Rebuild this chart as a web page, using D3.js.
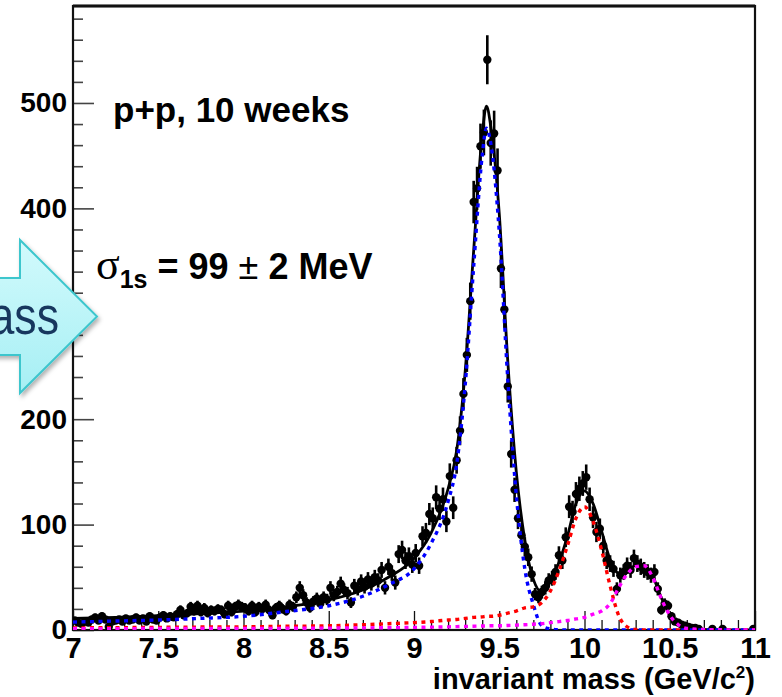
<!DOCTYPE html>
<html><head><meta charset="utf-8">
<script src="https://cdn.jsdelivr.net/npm/d3@7"></script>
<style>html,body{margin:0;padding:0;background:#fff;overflow:hidden}</style>
</head><body>
<svg id="c" width="782" height="697"></svg>
<script>
// ---------- DATA ----------
const massMin = 7.0;
const binWidth = 0.02;
// counts per 20 MeV bin, 7.00 - 11.00 GeV/c^2 (200 bins)
const counts = [
  9,7,6,8,7,10,12,9,13,10, 3,8,9,10,8,11,9,10,12,9, 11,8,13,10,9,12,14,11,13,12, 15,19,14,16,22,18,23,17,21,16, 19,18,20,19,15,23,17,22,24,22,
  21,18,23,17,22,20,24,19,14,21, 23,20,18,24,22,31,40,33,26,21, 27,30,25,31,29,40,33,36,44,38, 35,26,42,39,46,41,48,44,50,47, 57,40,60,54,45,72,76,66,70,62,
  73,61,89,92,110,106,126,115,124,103, 146,116,161,189,224,261,312,406,419,459, 472,541,462,471,436,343,304,231,167,133, 106,90,79,69,53,34,31,36,40,47, 49,55,71,66,88,117,112,129,134,139,
  145,124,107,93,96,80,66,63,58,39, 52,55,61,57,68,63,60,57,55,52, 55,39,19,25,23,13,8,7,5,4, 3,2,2,1,0,0,0,1,0,0, 1,0,0,0,0,0,0,0,0,1
];
// fit curves sampled at these masses
const curveMass = [7.0,7.25,7.5,7.75,8.0,8.25,8.5,8.7,8.85,9.0,9.1,9.2,9.25,9.3,9.35,9.4,9.425,9.45,9.5,9.55,9.6,9.65,9.7,9.75,9.8,9.85,9.9,9.95,10.0,10.05,10.1,10.15,10.2,10.25,10.3,10.35,10.4,10.45,10.5,10.55,10.6,10.7,10.8,10.9,11.0];
const fitTotal = [11,12,13.5,15.5,18,22,28.5,38,50,68,92,134,170,245,360,470,497,478,395,255,150,85,48,36,48,64,89,120,132,120,94,67,54,56,61,61,51,31,14,5.5,2,0.6,0.2,0.1,0];
const fit1S    = [7.5,8.5,9.5,11,13,17.5,23,32,43,58,82,122,157,232,345,450,476,462,378,238,128,58,24,4,1,0.2,0,0,0,0,0,0,0,0,0,0,0,0,0,0,0,0,0,0,0];
const fit2S    = [2,2.2,2.5,2.8,3,3.5,4,5,6,7,8,9.5,10,11,12,12.5,13,13,14,16,18,21,22,26,37,56,80,106,117,103,76,42,14,3,0.5,0,0,0,0,0,0,0,0,0,0];
const fit3S    = [1.2,1.3,1.4,1.5,1.5,1.6,1.8,2,2.2,2.5,2.7,3,3.2,3.4,3.6,3.8,3.9,4,4,4.3,4.6,5,5.5,6,7,8,9,10.5,12,15,18,25,40,53,60,61,50,30,14,5,1.5,0.5,0.2,0,0];
const xTickValues = [7,7.5,8,8.5,9,9.5,10,10.5,11];
const xTickLabels = ["7","7.5","8","8.5","9","9.5","10","10.5","11"];
const yTickValues = [0,100,200,300,400,500];
// the "300" label is hidden behind the arrow in the reference
const yTickLabels = ["0","100","200","","400","500"];

// ---------- LAYOUT ----------
const svg = d3.select("#c");
const L = 73, R = 755, T = 6, B = 630;
const x = d3.scaleLinear().domain([7, 11]).range([L, R]);
const y = d3.scaleLinear().domain([0, 592]).range([B, T]);
const FONT = "'Liberation Sans', Arial, Helvetica, sans-serif";

const defs = svg.append("defs");
defs.append("clipPath").attr("id","plotclip").append("rect")
  .attr("x", L).attr("y", T).attr("width", R-L).attr("height", B-T);
const grad = defs.append("linearGradient").attr("id","arrowgrad")
  .attr("x1","0").attr("y1","0").attr("x2","0").attr("y2","1");
grad.append("stop").attr("offset","0").attr("stop-color","#d2fafc");
grad.append("stop").attr("offset","1").attr("stop-color","#a6eff4");
const sh = defs.append("filter").attr("id","shadow").attr("x","-20%").attr("y","-20%").attr("width","150%").attr("height","150%");
sh.append("feDropShadow").attr("dx",2).attr("dy",3).attr("stdDeviation",2).attr("flood-color","#000").attr("flood-opacity",0.3);

// ---------- AXES ----------
const yMinor = d3.range(20, 581, 20).filter(v => v % 100 !== 0);
const xMinor = d3.range(71, 110, 1).map(v => v/10).filter(v => Math.abs(v*2 - Math.round(v*2)) > 1e-6);

const gYminor = svg.append("g").attr("transform",`translate(${L},0)`)
  .call(d3.axisRight(y).tickValues(yMinor).tickSize(10).tickFormat(""));
const gYmajor = svg.append("g").attr("transform",`translate(${L},0)`)
  .call(d3.axisRight(y).tickValues(yTickValues).tickSize(21).tickFormat(""));
const gYlab = svg.append("g").attr("transform",`translate(${L},0)`)
  .call(d3.axisLeft(y).tickValues(yTickValues).tickSize(0).tickPadding(6)
    .tickFormat((d,i) => yTickLabels[i]));
const gXminor = svg.append("g").attr("transform",`translate(0,${B})`)
  .call(d3.axisTop(x).tickValues(xMinor).tickSize(10).tickFormat(""));
const gXmajor = svg.append("g").attr("transform",`translate(0,${B})`)
  .call(d3.axisTop(x).tickValues(xTickValues).tickSize(19).tickFormat(""));
const gXlab = svg.append("g").attr("transform",`translate(0,${B})`)
  .call(d3.axisBottom(x).tickValues(xTickValues).tickSize(0).tickPadding(7)
    .tickFormat((d,i) => xTickLabels[i]));

[gYminor,gYmajor,gYlab,gXminor,gXmajor,gXlab].forEach(g => g.select(".domain").remove());
[gYminor,gYmajor].forEach(g => g.selectAll("line").attr("stroke","#444").attr("stroke-width",1.6));
[gXminor,gXmajor].forEach(g => g.selectAll("line").attr("stroke","#111").attr("stroke-width",1.3));
gYlab.selectAll("text").attr("font-family",FONT).attr("font-weight","bold").attr("font-size",28).attr("fill","#000");
gXlab.selectAll("text").attr("font-family",FONT).attr("font-weight","bold").attr("font-size",29).attr("fill","#000");

// frame
svg.append("rect").attr("x",L).attr("y",T).attr("width",R-L).attr("height",B-T)
  .attr("fill","none").attr("stroke","#111").attr("stroke-width",2.2);
svg.append("line").attr("x1",L).attr("x2",R).attr("y1",T).attr("y2",T)
  .attr("stroke","#111").attr("stroke-width",3);

// ---------- DATA ----------
const plot = svg.append("g").attr("clip-path","url(#plotclip)");
const fitPts = (arr) => curveMass.map((m,i) => [m, arr[i]]);
const line = d3.line().x(d => x(d[0])).y(d => y(d[1])).curve(d3.curveMonotoneX);

plot.append("path").datum(fitPts(fitTotal)).attr("d", line)
  .attr("fill","none").attr("stroke","#000").attr("stroke-width",2.8);

const bins = counts.map((c,i) => ({m: massMin + binWidth*(i+0.5), c}))
  .filter(d => d.c > 0);
plot.append("g").selectAll("line").data(bins).join("line")
  .attr("x1", d => x(d.m)).attr("x2", d => x(d.m))
  .attr("y1", d => y(d.c + Math.sqrt(d.c))).attr("y2", d => y(Math.max(0, d.c - Math.sqrt(d.c))))
  .attr("stroke","#000").attr("stroke-width",2.6);
plot.append("g").selectAll("circle").data(bins).join("circle")
  .attr("cx", d => x(d.m)).attr("cy", d => y(d.c)).attr("r", 4.2).attr("fill","#000");

[[fit1S,"#0000ff"],[fit2S,"#ff0000"],[fit3S,"#ff00ff"]].forEach(([arr,col]) => {
  plot.append("path").datum(fitPts(arr)).attr("d", line)
    .attr("fill","none").attr("stroke",col).attr("stroke-width",3.4)
    .attr("stroke-dasharray","4,4.5");
});

// ---------- TEXT ----------
svg.append("text").attr("x",113).attr("y",122)
  .attr("font-family",FONT).attr("font-weight","bold").attr("font-size",35)
  .text("p+p, 10 weeks");

const sig = svg.append("text").attr("x",96).attr("y",279)
  .attr("font-family",FONT).attr("font-weight","bold").attr("font-size",36);
sig.append("tspan").attr("font-family","'Liberation Serif','Times New Roman',serif")
  .attr("font-weight","normal").attr("font-size",44).text("σ");
sig.append("tspan").attr("font-size",25).attr("dy",9).text("1s");
sig.append("tspan").attr("dy",-9).text(" = 99 ");
sig.append("tspan").attr("font-weight","normal").text("±");
sig.append("tspan").text(" 2 MeV");

const xt = svg.append("text").attr("x",755).attr("y",689).attr("text-anchor","end")
  .attr("font-family",FONT).attr("font-weight","bold").attr("font-size",29);
xt.append("tspan").text("invariant mass (GeV/c");
xt.append("tspan").attr("font-size",17).attr("dy",-11).text("2");
xt.append("tspan").attr("dy",11).text(")");

// ---------- ARROW ----------
const arrowPts = [[-10,278],[20,278],[20,240],[97,316.5],[20,393],[20,355],[-10,355]];
svg.append("polygon").attr("points", arrowPts.map(p => p.join(",")).join(" "))
  .attr("fill","url(#arrowgrad)").attr("stroke","#3cc6cd").attr("stroke-width",2)
  .attr("filter","url(#shadow)");
svg.append("text").attr("transform","translate(59,334) scale(0.86,1)")
  .attr("text-anchor","end").attr("font-family",FONT).attr("font-size",52)
  .attr("fill","#17375e").text("mass");
</script>
</body></html>
